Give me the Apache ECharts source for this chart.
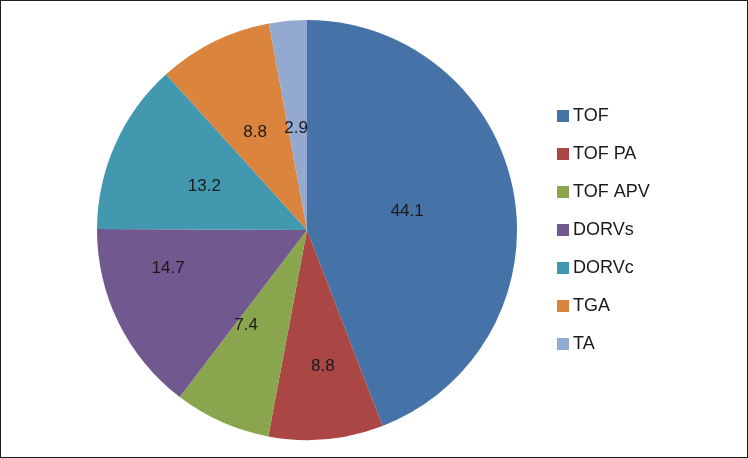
<!DOCTYPE html>
<html>
<head>
<meta charset="utf-8">
<script src="https://cdn.jsdelivr.net/npm/echarts@6/dist/echarts.min.js"></script>
<style>
  html, body { margin: 0; padding: 0; background: #fff; }
  #chart {
    width: 748px; height: 458px;
    box-sizing: border-box;
    border: 1px solid #1e1e1e;
  }
</style>
</head>
<body>
<div id="chart"></div>
<script>
// categories and percentages
var categories = ["TOF", "TOF PA", "TOF APV", "DORVs", "DORVc", "TGA", "TA"];
var values = [44.1, 8.8, 7.4, 14.7, 13.2, 8.8, 2.9];

var myChart = echarts.init(document.getElementById("chart"));

// slice colours (Excel 2007 palette)
var colors = ["#4572A7", "#AA4643", "#89A54E", "#71588F", "#4198AF", "#DB843D", "#93A9CF"];
// nudges so the inside labels sit where Excel put them
var labelNudge = [[-6, 1], [6, 29], [-17, -3], [-42, -9], [-4, 0], [-4, -1], [-1, 6]];

var option = {
  animation: false,
  color: colors,
  legend: {
    orient: "vertical",
    left: 551,
    top: 101,
    itemWidth: 12,
    itemHeight: 12,
    itemGap: 20,
    icon: "rect",
    textStyle: {
      fontFamily: "Liberation Sans, Arial, sans-serif",
      fontSize: 18,
      color: "#1a1a1a",
      padding: [0, 0, 0, -1]
    },
    data: categories
  },
  series: [
    {
      type: "pie",
      center: [306, 229],
      radius: [0, 210],
      startAngle: 90,
      clockwise: true,
      label: {
        show: true,
        position: "inside",
        fontFamily: "Liberation Sans, Arial, sans-serif",
        fontSize: 17,
        color: "#1a1a1a",
        formatter: "{c}"
      },
      labelLine: { show: false },
      emphasis: { disabled: true },
      data: categories.map(function (name, i) {
        return { name: name, value: values[i], label: { offset: labelNudge[i] } };
      })
    }
  ]
};

myChart.setOption(option);
</script>
</body>
</html>
